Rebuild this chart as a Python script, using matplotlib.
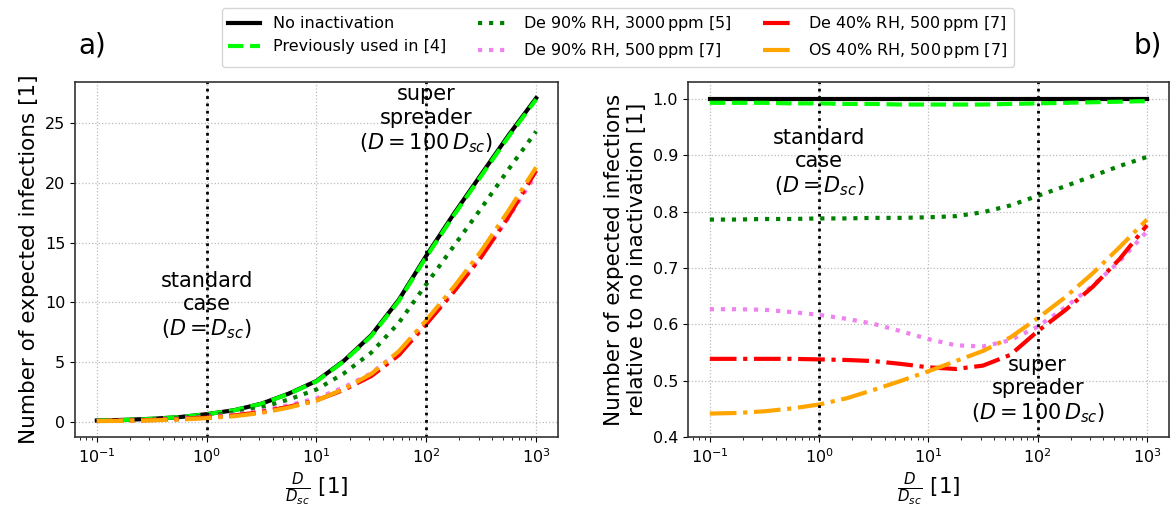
"""Expected infections vs. emission strength D/D_sc, absolute (a) and relative to no inactivation (b)."""

import matplotlib

matplotlib.use("Agg")
import matplotlib.pyplot as plt

# D / D_sc, quarter-decade steps from 1e-1 to 1e3
d_ratio = [0.1, 0.178, 0.316, 0.562, 1.0, 1.78, 3.16, 5.62, 10.0, 17.8, 31.6, 56.2,
           100.0, 178.0, 316.0, 562.0, 1000.0]

# expected infections without inactivation (panel a, black line)
infections_no_inact = [0.09, 0.14, 0.23, 0.37, 0.62, 0.95, 1.5, 2.35, 3.4, 5.1, 7.24,
                       10.2, 13.9, 17.4, 20.7, 24.0, 27.1]

# infections relative to no inactivation (panel b)
rel_no_inact = [1.0] * len(d_ratio)
rel_prev_used = [0.993, 0.993, 0.993, 0.992, 0.992, 0.991, 0.991, 0.990, 0.990, 0.990,
                 0.990, 0.991, 0.992, 0.993, 0.994, 0.995, 0.996]
rel_de90_3000 = [0.786, 0.786, 0.787, 0.787, 0.788, 0.788, 0.789, 0.789, 0.790, 0.792,
                 0.799, 0.811, 0.828, 0.845, 0.863, 0.881, 0.897]
rel_de90_500 = [0.627, 0.627, 0.626, 0.622, 0.617, 0.610, 0.601, 0.588, 0.574, 0.563,
                0.561, 0.572, 0.596, 0.630, 0.668, 0.712, 0.765]
rel_de40_500 = [0.539, 0.539, 0.539, 0.539, 0.538, 0.537, 0.535, 0.530, 0.524, 0.521,
                0.527, 0.546, 0.588, 0.625, 0.666, 0.716, 0.776]
rel_os40_500 = [0.442, 0.443, 0.446, 0.451, 0.458, 0.469, 0.484, 0.500, 0.517, 0.535,
                0.553, 0.577, 0.611, 0.648, 0.690, 0.737, 0.786]

series_labels = [
    "No inactivation",
    "Previously used in [4]",
    r"De 90% RH, 3000$\,$ppm [5]",
    r"De 90% RH, 500$\,$ppm [7]",
    r"De 40% RH, 500$\,$ppm [7]",
    r"OS 40% RH, 500$\,$ppm [7]",
]
series_rel = [rel_no_inact, rel_prev_used, rel_de90_3000, rel_de90_500, rel_de40_500, rel_os40_500]
series_colors = ["black", "lime", "green", "violet", "red", "orange"]
series_styles = ["-", "--", ":", ":", "-.", "-."]

marked_cases = [1.0, 100.0]

LABEL_FS = 15.5
TICK_FS = 11.5
NOTE_FS = 15

fig = plt.figure(figsize=(11.7, 5.09), dpi=100)
ax_a = fig.add_axes([0.064, 0.141, 0.413, 0.698])
ax_b = fig.add_axes([0.588, 0.141, 0.411, 0.698])

for label, rel, color, ls in zip(series_labels, series_rel, series_colors, series_styles):
    absolute = [n * r for n, r in zip(infections_no_inact, rel)]
    ax_a.plot(d_ratio, absolute, color=color, linestyle=ls, linewidth=3, label=label)
    ax_b.plot(d_ratio, rel, color=color, linestyle=ls, linewidth=3)

for ax in (ax_a, ax_b):
    ax.set_xscale("log")
    for xc in marked_cases:
        ax.axvline(xc, color="black", linestyle=":", linewidth=2)
    ax.grid(True, which="major", linestyle=":", color="#bbbbbb", linewidth=0.9)
    ax.tick_params(labelsize=TICK_FS)
    ax.set_xlabel(r"$\frac{D}{D_{sc}}$ [1]", fontsize=LABEL_FS)
    for sp in ax.spines.values():
        sp.set_color("#333333")
        sp.set_linewidth(1.2)

ax_a.set_ylabel("Number of expected infections [1]", fontsize=LABEL_FS)
ax_b.set_ylabel("Number of expected infections\nrelative to no inactivation [1]",
                fontsize=LABEL_FS)
ax_b.set_ylim(0.4, 1.03)

ax_a.text(1.0, 9.7, "standard\ncase\n($D = D_{sc}$)", ha="center", va="center", fontsize=NOTE_FS)
ax_a.text(100.0, 25.3, "super\nspreader\n($D = 100\\,D_{sc}$)", ha="center", va="center",
          fontsize=NOTE_FS)
ax_b.text(1.0, 0.886, "standard\ncase\n($D = D_{sc}$)", ha="center", va="center", fontsize=NOTE_FS)
ax_b.text(100.0, 0.484, "super\nspreader\n($D = 100\\,D_{sc}$)", ha="center", va="center",
          fontsize=NOTE_FS)

fig.text(0.079, 0.91, "a)", ha="center", va="center", fontsize=20)
fig.text(0.981, 0.91, "b)", ha="center", va="center", fontsize=20)

fig.legend(loc="upper center", bbox_to_anchor=(0.528, 1.0), ncol=3, fontsize=TICK_FS,
           columnspacing=2.0, handlelength=2.0)

fig.savefig("out.png", dpi=100)
